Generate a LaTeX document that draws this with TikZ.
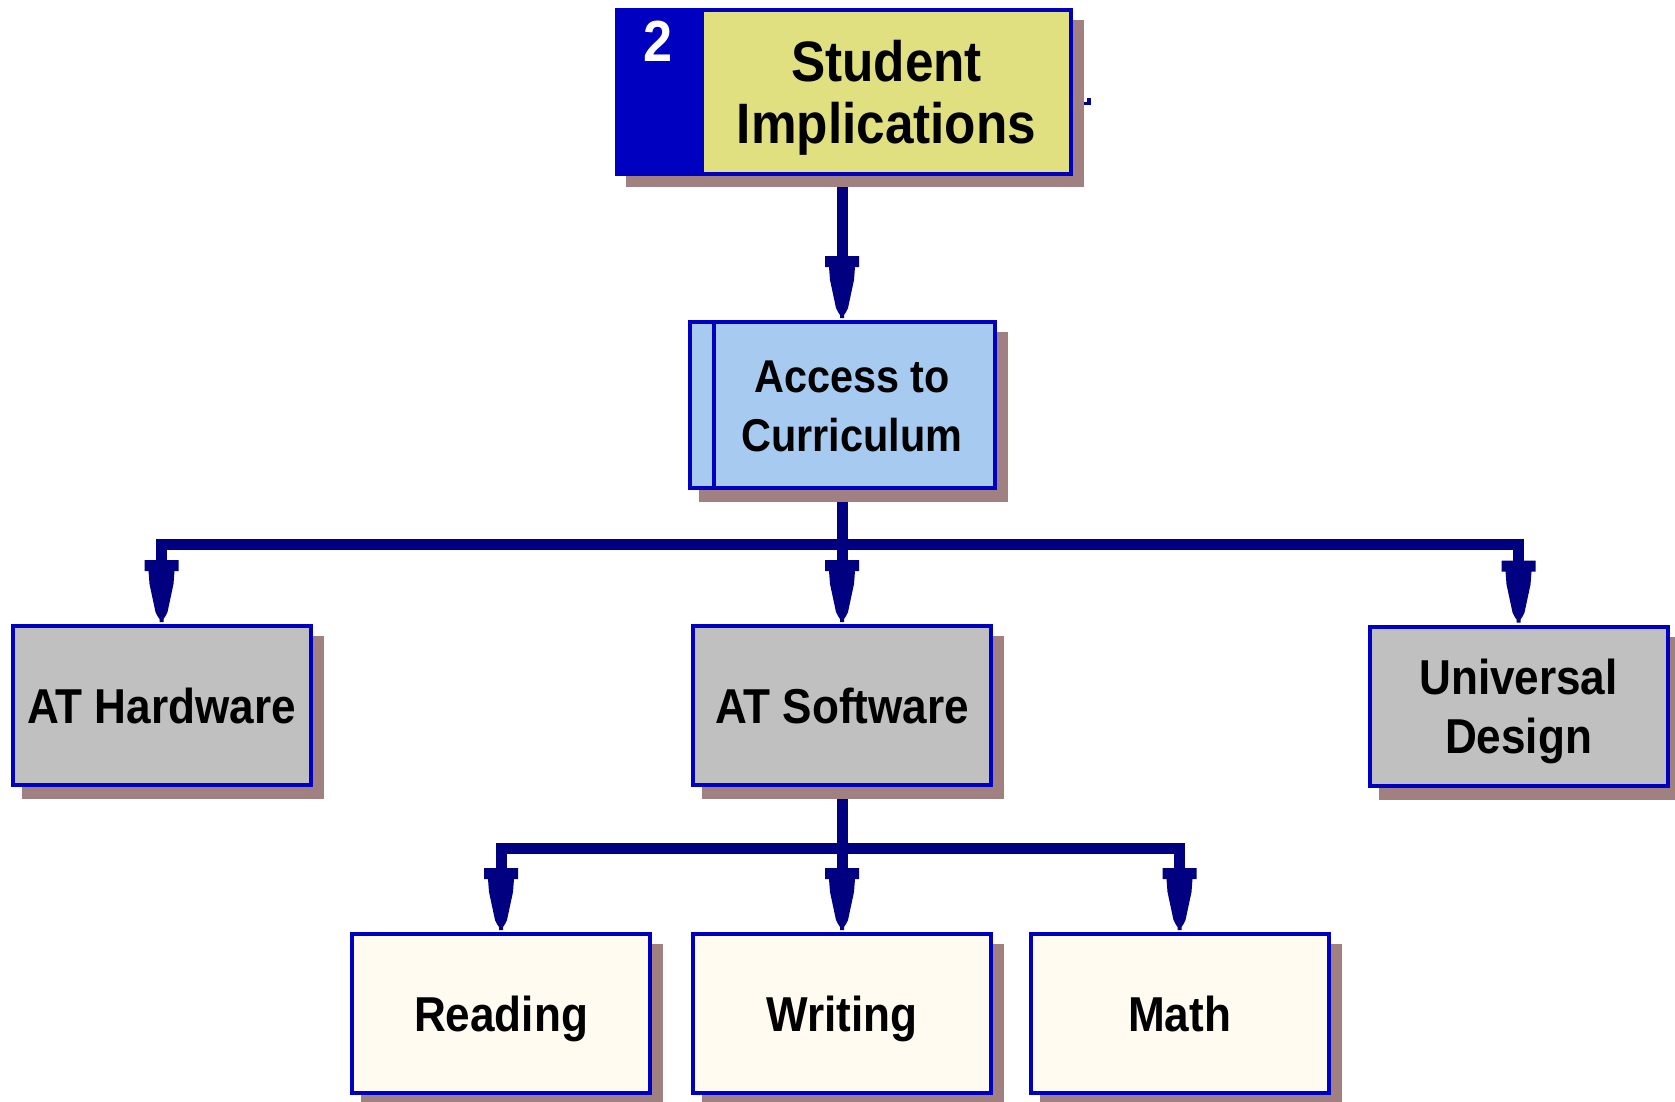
\documentclass[tikz,border=0pt]{standalone}
\usepackage{fontspec}
\setmainfont{Liberation Sans}[FakeStretch=0.9]
\usetikzlibrary{calc}
\definecolor{navyc}{RGB}{0,0,128}
\definecolor{bordc}{RGB}{0,0,192}
\definecolor{shadowc}{RGB}{160,128,128}
\definecolor{yellowc}{RGB}{224,224,128}
\definecolor{lbluec}{RGB}{166,202,240}
\definecolor{grayc}{RGB}{192,192,192}
\definecolor{creamc}{RGB}{255,251,240}
\pgfdeclarelayer{bg}
\pgfsetlayers{bg,main}
\tikzset{
  box/.style={draw=bordc, line width=4pt, rectangle, inner sep=0pt,
    font=\bfseries\fontsize{49}{59}\selectfont, align=center, text depth=0pt,
    preaction={fill=shadowc, draw=shadowc, transform canvas={xshift=11pt,yshift=-12pt}}},
  leaf/.style={box, minimum width=298pt, minimum height=159pt},
  conn/.style={draw=navyc, line width=11pt, line join=miter, line cap=butt},
  ahead/.pic={\fill[navyc] (-17,-62) -- (17,-62) -- (17,-51) -- (13,-51) -- (12,-38)
     -- (9,-24) -- (6,-10) -- (4,-6) -- (2,-3) -- (2,0) -- (-2,0) -- (-2,-3) -- (-4,-6)
     -- (-6,-10) -- (-9,-24) -- (-12,-38) -- (-13,-51) -- (-17,-51) -- cycle;}
}
\begin{document}
\begin{tikzpicture}[x=1pt,y=-1pt]
\useasboundingbox (0,0) rectangle (1675,1101);

% top box
\fill[shadowc] (626,20) rectangle (1084,187);
\node[draw=bordc, line width=4pt, fill=yellowc, minimum width=369pt, minimum height=164pt,
  inner sep=0pt, align=center, text depth=0pt, font=\bfseries\fontsize{57}{62}\selectfont]
  (si) at (886.5,92) {Student\\Implications};
\fill[bordc] (615,8) rectangle (704,176);
\node[text=white, inner sep=0pt, text depth=0pt, font=\bfseries\fontsize{58}{60}\selectfont]
  (num) at (658.5,41.5) {2};
\fill[navyc] (1087,98) rectangle (1091,105);
\fill[navyc] (1084,102) rectangle (1091,105);

% access
\node[box, fill=lbluec, minimum width=305pt, minimum height=166pt] (access) at (842,405) {};
\draw[bordc, line width=4pt] ([xshift=26pt]access.north west) -- ([xshift=26pt]access.south west);
\node[inner sep=0pt, align=center, text depth=0pt, font=\bfseries\fontsize{46}{59}\selectfont]
  (acctext) at (852,406) {Access to\\Curriculum};

% second row
\node[leaf, fill=grayc] (hw) at (161.5,705.5) {AT Hardware};
\node[leaf, fill=grayc] (sw) at (842,705.5) {AT Software};
\node[leaf, fill=grayc] (ud) at (1518.5,706) {Universal\\Design};

% third row
\node[leaf, fill=creamc] (rd) at (501,1013.5) {Reading};
\node[leaf, fill=creamc] (wr) at (842,1013.5) {Writing};
\node[leaf, fill=creamc] (mt) at (1179.5,1013.5) {Math};

\coordinate (bus1) at (842,544);
\coordinate (bus2) at (842,848);

\begin{pgfonlayer}{bg}
  \fill[white] (0,0) rectangle (1675,1101);
  \draw[conn] (access.north |- si.south) -- ($(access.north)+(0,-60)$);
  \pic at ([yshift=2pt]access.north) {ahead};

  \draw[conn] (access.south) -- ($(sw.north)+(0,-60)$);
  \draw[conn] ($(hw.north)+(0,-60)$) -- (hw.north |- bus1) -- (ud.north |- bus1) -- ($(ud.north)+(0,-60)$);
  \pic at ([yshift=2pt]hw.north) {ahead};
  \pic at ([yshift=2pt]sw.north) {ahead};
  \pic at ([yshift=2pt]ud.north) {ahead};

  \draw[conn] (sw.south) -- ($(wr.north)+(0,-60)$);
  \draw[conn] ($(rd.north)+(0,-60)$) -- (rd.north |- bus2) -- (mt.north |- bus2) -- ($(mt.north)+(0,-60)$);
  \pic at ([yshift=2pt]rd.north) {ahead};
  \pic at ([yshift=2pt]wr.north) {ahead};
  \pic at ([yshift=2pt]mt.north) {ahead};
\end{pgfonlayer}
\end{tikzpicture}
\end{document}
